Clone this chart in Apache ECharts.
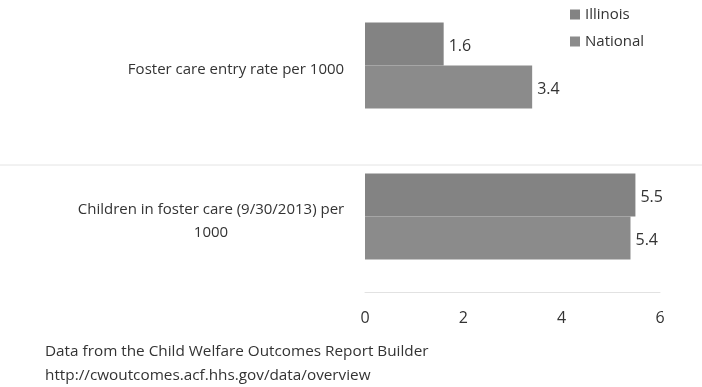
<!DOCTYPE html>
<html>
<head>
<meta charset="utf-8">
<script src="https://cdn.jsdelivr.net/npm/echarts@6/dist/echarts.min.js"></script>
<style>
  html, body { margin: 0; padding: 0; background: #fff; }
  #chart { width: 702px; height: 387px; }
</style>
</head>
<body>
<div id="chart"></div>
<script>
// Measures shown, top to bottom
const categories = ['Foster care entry rate per 1000', 'Children in foster care (9/30/2013) per\n1000'];
const illinois = [1.6, 5.5];
const national = [3.4, 5.4];
const xTicks = [0, 2, 4, 6];

const FONT = '"Open Sans", sans-serif';
const FONT_SIZE = 15;
const NUM_SIZE = 16;

// Width of the longest line of each category label, so that wrapped lines
// can be centred under each other while the block stays right-aligned.
const measureCtx = document.createElement('canvas').getContext('2d');
measureCtx.font = FONT_SIZE + 'px "Open Sans"';
const rich = {};
categories.forEach((c, i) => {
  const w = Math.max(...c.split('\n').map(s => measureCtx.measureText(s).width));
  rich['c' + i] = { width: Math.ceil(w) + 1, align: 'center', fontFamily: FONT, fontSize: FONT_SIZE, color: '#333', lineHeight: 23 };
});

const chart = echarts.init(document.getElementById('chart'));

chart.setOption({
  backgroundColor: '#ffffff',
  animation: false,
  textStyle: { fontFamily: FONT },
  legend: {
    orient: 'vertical',
    left: 565,
    top: 2,
    icon: 'rect',
    itemWidth: 10,
    itemHeight: 10,
    itemGap: 12,
    textStyle: { fontFamily: FONT, fontSize: FONT_SIZE, color: '#333' },
    data: ['Illinois', 'National']
  },
  grid: { left: 365, right: 42, top: -10, bottom: 95, outerBoundsMode: 'none', containLabel: false },
  xAxis: {
    type: 'value',
    min: xTicks[0],
    max: xTicks[xTicks.length - 1],
    interval: 2,
    axisLine: { show: true, lineStyle: { color: '#e2e2e2', width: 1 } },
    axisTick: { show: false },
    splitLine: { show: false },
    axisLabel: { fontFamily: FONT, fontSize: NUM_SIZE, color: '#333', margin: 18 }
  },
  yAxis: {
    type: 'category',
    inverse: true,
    data: categories,
    axisLine: { show: false },
    axisTick: { show: false },
    axisLabel: {
      margin: 20,
      align: 'right',
      padding: [9, 0, 0, 0],
      rich: rich,
      formatter: (v, idx) => v.split('\n').map(s => '{c' + idx + '|' + s + '}').join('\n')
    }
  },
  series: [
    {
      name: 'Illinois', type: 'bar', data: illinois,
      barWidth: 43, barGap: '0%',
      itemStyle: { color: '#838383' },
      label: { show: true, position: 'right', distance: 5, fontFamily: FONT, fontSize: NUM_SIZE, color: '#333', offset: [0, 2] }
    },
    {
      name: 'National', type: 'bar', data: national,
      barWidth: 43, barGap: '0%',
      itemStyle: { color: '#8b8b8b' },
      label: { show: true, position: 'right', distance: 5, fontFamily: FONT, fontSize: NUM_SIZE, color: '#333', offset: [0, 2] }
    }
  ],
  graphic: [
    { type: 'line', shape: { x1: 0, y1: 165, x2: 702, y2: 165 }, style: { stroke: '#e4e4e4', lineWidth: 1 } },
    {
      type: 'text', left: 45, top: 340,
      style: {
        text: 'Data from the Child Welfare Outcomes Report Builder\nhttp://cwoutcomes.acf.hhs.gov/data/overview',
        font: '15.3px "Open Sans", sans-serif', fill: '#333', lineHeight: 24
      }
    }
  ]
});
</script>
</body>
</html>
